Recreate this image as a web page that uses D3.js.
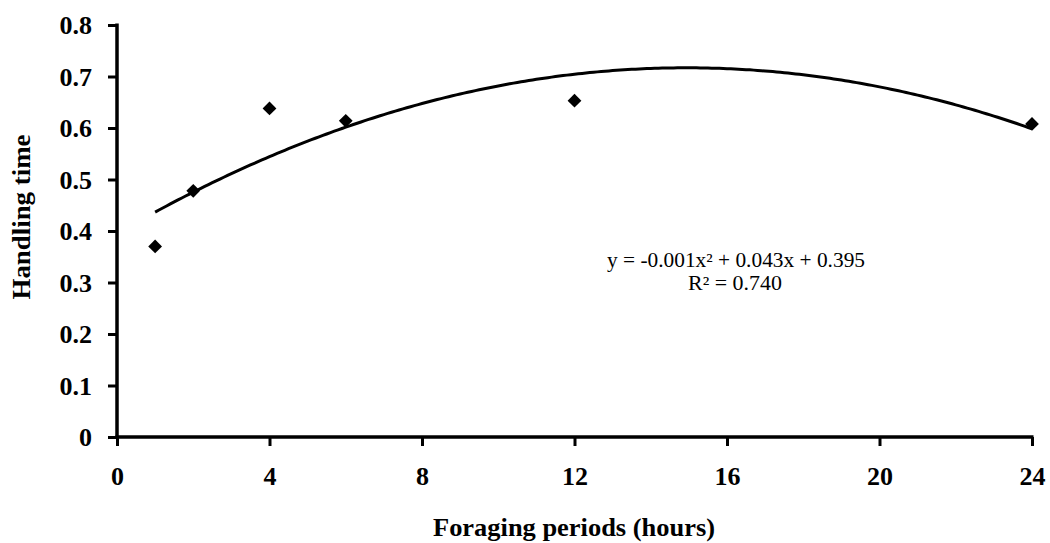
<!DOCTYPE html>
<html><head><meta charset="utf-8">
<script src="https://cdn.jsdelivr.net/npm/d3@7"></script>
<style>body{margin:0;background:#fff}svg{display:block}</style>
</head><body>
<svg id="c" width="1050" height="543"></svg>
<script>
const hours = [1, 2, 4, 6, 12, 24];
const handling = [0.37, 0.478, 0.638, 0.614, 0.653, 0.608];
const xTicks = [0, 4, 8, 12, 16, 20, 24];
const yTicks = [0, 0.1, 0.2, 0.3, 0.4, 0.5, 0.6, 0.7, 0.8];
const eqLines = ["y = -0.001x\u00B2 + 0.043x + 0.395", "R\u00B2 = 0.740"];
const xTitle = "Foraging periods (hours)";
const yTitle = "Handling time";

const svg = d3.select("#c");
const x = d3.scaleLinear().domain([0, 24]).range([117, 1032]);
const y = d3.scaleLinear().domain([0, 0.8]).range([437, 25]);
const font = "'Liberation Serif','Times New Roman',serif";

// quadratic least squares trend (Excel polynomial order 2)
function quadFit(xs, ys) {
  const S = [[0,0,0],[0,0,0],[0,0,0]], T = [0,0,0];
  xs.forEach((xv, i) => {
    const p = [1, xv, xv*xv];
    for (let r = 0; r < 3; r++) { T[r] += p[r]*ys[i]; for (let c = 0; c < 3; c++) S[r][c] += p[r]*p[c]; }
  });
  const A = S.map((row, i) => row.concat([T[i]]));
  for (let i = 0; i < 3; i++) for (let k = i+1; k < 3; k++) {
    const f = A[k][i]/A[i][i];
    for (let j = i; j < 4; j++) A[k][j] -= f*A[i][j];
  }
  const sol = [0,0,0];
  for (let i = 2; i >= 0; i--) {
    let s = A[i][3];
    for (let j = i+1; j < 3; j++) s -= A[i][j]*sol[j];
    sol[i] = s/A[i][i];
  }
  return sol;
}
const [c0, c1, c2] = quadFit(hours, handling);
const curve = d3.range(hours[0], hours[hours.length-1] + 0.001, 0.1).map(v => [v, c0 + c1*v + c2*v*v]);

// axes
const yAxis = svg.append("g").attr("transform", "translate(117,0)")
  .call(d3.axisLeft(y).tickValues(yTicks).tickSize(9).tickPadding(16).tickFormat(d => d === 0 ? "0" : d3.format(".1f")(d)));
const xAxis = svg.append("g").attr("transform", "translate(0,437)")
  .call(d3.axisBottom(x).tickValues(xTicks).tickSize(9).tickFormat(d3.format("d")));
[yAxis, xAxis].forEach(g => {
  g.select(".domain").remove();
  g.selectAll(".tick line").attr("stroke", "#000").attr("stroke-width", 3);
  g.selectAll(".tick text").attr("fill", "#000").style("font-family", font).style("font-weight", "bold").style("font-size", "26px");
});
xAxis.selectAll(".tick text").attr("y", 48).attr("dy", 0);
yAxis.selectAll(".tick text").attr("dy", "0.34em");
svg.append("line").attr("x1", 117).attr("x2", 117).attr("y1", y(0.8) - 1.5).attr("y2", y(0) + 1.5).attr("stroke", "#000").attr("stroke-width", 3.5);
svg.append("line").attr("x1", x(0) - 1.5).attr("x2", x(24) + 1.5).attr("y1", 437).attr("y2", 437).attr("stroke", "#000").attr("stroke-width", 3.5);

// trend curve
svg.append("path").datum(curve)
  .attr("d", d3.line().x(d => x(d[0])).y(d => y(d[1])))
  .attr("fill", "none").attr("stroke", "#000").attr("stroke-width", 3);

// markers (diamonds)
svg.selectAll(".pt").data(hours.map((h, i) => [h, handling[i]])).enter().append("path")
  .attr("class", "pt")
  .attr("d", d3.symbol().type(d3.symbolSquare).size(95))
  .attr("transform", d => `translate(${x(d[0])},${y(d[1])}) rotate(45)`)
  .attr("fill", "#000");

// equation
svg.append("text").attr("x", 736).attr("y", 267).attr("text-anchor", "middle")
  .attr("textLength", 258).attr("lengthAdjust", "spacingAndGlyphs")
  .style("font-family", font).style("font-size", "20px").attr("fill", "#000").text(eqLines[0]);
svg.append("text").attr("x", 735).attr("y", 290).attr("text-anchor", "middle")
  .attr("textLength", 94).attr("lengthAdjust", "spacingAndGlyphs")
  .style("font-family", font).style("font-size", "20px").attr("fill", "#000").text(eqLines[1]);

// titles
svg.append("text").attr("x", 574).attr("y", 536).attr("text-anchor", "middle")
  .attr("textLength", 282).attr("lengthAdjust", "spacingAndGlyphs")
  .style("font-family", font).style("font-weight", "bold").style("font-size", "26px").attr("fill", "#000")
  .text(xTitle);
svg.append("text").attr("transform", "translate(30,217) rotate(-90)").attr("text-anchor", "middle")
  .attr("textLength", 165).attr("lengthAdjust", "spacingAndGlyphs")
  .style("font-family", font).style("font-weight", "bold").style("font-size", "26px").attr("fill", "#000")
  .text(yTitle);
</script>
</body></html>
